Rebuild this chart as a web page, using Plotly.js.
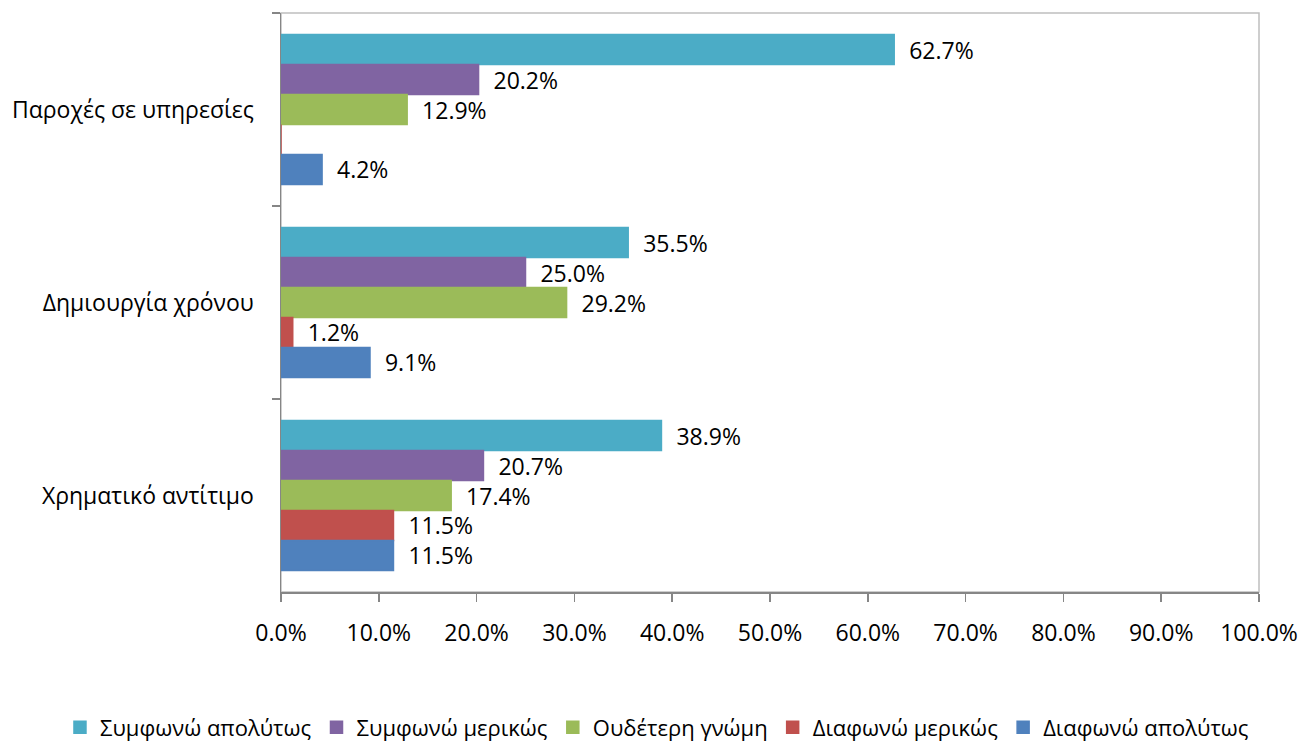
<!DOCTYPE html>
<html>
<head>
<meta charset="utf-8">
<script src="https://cdn.plot.ly/plotly-3.0.1.min.js"></script>
<style>html,body{margin:0;padding:0;background:#fff;}#chart{width:1302px;height:742px;}</style>
</head>
<body>
<div id="chart"></div>
<script>
const categories = ["Παροχές σε υπηρεσίες", "Δημιουργία χρόνου", "Χρηματικό αντίτιμο"];
const seriesNames = ["Συμφωνώ απολύτως", "Συμφωνώ μερικώς", "Ουδέτερη γνώμη", "Διαφωνώ μερικώς", "Διαφωνώ απολύτως"];
const agreeFully = [62.7, 35.5, 38.9];
const agreePartly = [20.2, 25.0, 20.7];
const neutral = [12.9, 29.2, 17.4];
const disagreePartly = [0, 1.2, 11.5];
const disagreeFully = [4.2, 9.1, 11.5];
const xTicks = [0, 10, 20, 30, 40, 50, 60, 70, 80, 90, 100];
const colors = ["#4BACC6", "#8064A2", "#9BBB59", "#C0504D", "#4F81BD"];

const FONT = "Open Sans, Noto Sans, DejaVu Sans, sans-serif";
const FS = 23;
const allSeries = [agreeFully, agreePartly, neutral, disagreePartly, disagreeFully];

const traces = allSeries.map((vals, i) => ({
  type: "bar",
  orientation: "h",
  name: seriesNames[i],
  y: categories,
  x: vals,
  marker: {color: colors[i], line: {color: colors[i], width: 1.5}},
  text: vals.map(v => v > 0 ? "\u00a0\u00a0" + v.toFixed(1) + "%" : ""),
  textposition: "outside",
  constraintext: "none",
  textfont: {family: FONT, size: FS, color: "#000"},
  cliponaxis: false,
  hoverinfo: "none"
}));

const layout = {
  width: 1302,
  height: 742,
  margin: {l: 281, r: 43, t: 13, b: 150, autoexpand: false},
  paper_bgcolor: "#fff",
  plot_bgcolor: "#fff",
  barmode: "group",
  bargap: 0.224,
  bargroupgap: 0,
  font: {family: FONT, size: FS, color: "#000"},
  showlegend: true,
  legend: {
    orientation: "h",
    xref: "paper", yref: "paper",
    x: -0.226, xanchor: "left",
    y: -0.234, yanchor: "middle",
    font: {family: FONT, size: 22, color: "#000"},
    traceorder: "normal"
  },
  xaxis: {
    range: [0, 100],
    tickvals: xTicks,
    ticktext: xTicks.map(v => v.toFixed(1) + "%"),
    showgrid: false,
    zeroline: false,
    showline: true,
    linecolor: "#868686",
    linewidth: 1.5,
    ticks: "outside",
    ticklen: 8,
    tickcolor: "#868686",
    tickwidth: 1.5,
    ticklabelstandoff: 12,
    tickfont: {family: FONT, size: FS, color: "#000"},
    fixedrange: true
  },
  yaxis: {
    type: "category",
    autorange: "reversed",
    showgrid: false,
    zeroline: false,
    showline: true,
    linecolor: "#868686",
    linewidth: 1.5,
    ticks: "outside",
    tickson: "boundaries",
    ticklen: 8,
    tickcolor: "#868686",
    tickwidth: 1.5,
    ticklabelstandoff: 21,
    tickfont: {family: FONT, size: FS, color: "#000"},
    fixedrange: true
  },
  shapes: [{
    type: "rect", xref: "paper", yref: "paper",
    x0: 0, x1: 1, y0: 0, y1: 1,
    line: {color: "#BFBFBF", width: 1.5},
    layer: "below"
  }]
};

Plotly.newPlot("chart", traces, layout, {displayModeBar: false, staticPlot: true});
</script>
</body>
</html>
